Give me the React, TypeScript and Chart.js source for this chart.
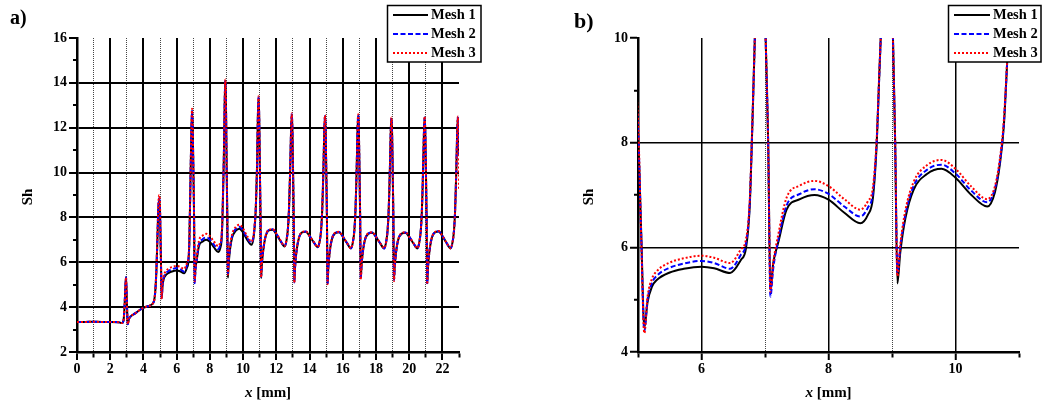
import React, { useEffect, useRef } from "react";
import { Chart, registerables } from "chart.js";
Chart.register(...registerables);

// ---------- data ----------
const xMm = [
  0, 0.5, 1, 1.5, 2, 2.5, 2.7, 2.8, 2.86, 2.92, 2.95, 2.99, 3.03, 3.06, 3.12, 3.25, 3.5, 3.75, 4.0, 4.3, 4.6, 4.7, 4.78, 4.84, 4.9, 4.95, 5.0, 5.05, 5.1, 5.15, 5.22, 5.3, 5.5, 5.72, 6.0, 6.2, 6.45,
  6.62, 6.7, 6.76, 6.8, 6.84, 6.89, 6.93, 6.97, 7.01, 7.05, 7.085, 7.13, 7.21, 7.34, 7.55, 7.78, 8.0, 8.25, 8.5,
  8.62, 8.7, 8.76, 8.8, 8.84, 8.89, 8.93, 8.97, 9.01, 9.05, 9.085, 9.13, 9.21, 9.34, 9.55, 9.78, 10.0, 10.25, 10.5,
  10.62, 10.7, 10.76, 10.8, 10.84, 10.89, 10.93, 10.97, 11.01, 11.05, 11.085, 11.13, 11.21, 11.34, 11.55, 11.78, 12.0, 12.25, 12.5,
  12.62, 12.7, 12.76, 12.8, 12.84, 12.89, 12.93, 12.97, 13.01, 13.05, 13.085, 13.13, 13.21, 13.34, 13.55, 13.78, 14.0, 14.25, 14.5,
  14.62, 14.7, 14.76, 14.8, 14.84, 14.89, 14.93, 14.97, 15.01, 15.05, 15.085, 15.13, 15.21, 15.34, 15.55, 15.78, 16.0, 16.25, 16.5,
  16.62, 16.7, 16.76, 16.8, 16.84, 16.89, 16.93, 16.97, 17.01, 17.05, 17.085, 17.13, 17.21, 17.34, 17.55, 17.78, 18.0, 18.25, 18.5,
  18.62, 18.7, 18.76, 18.8, 18.84, 18.89, 18.93, 18.97, 19.01, 19.05, 19.085, 19.13, 19.21, 19.34, 19.55, 19.78, 20.0, 20.25, 20.5,
  20.62, 20.7, 20.76, 20.8, 20.84, 20.89, 20.93, 20.97, 21.01, 21.05, 21.085, 21.13, 21.21, 21.34, 21.55, 21.78, 22.0, 22.25, 22.5,
  22.62, 22.7, 22.76, 22.8, 22.84, 22.89, 22.93, 22.97, 23.0,
];

const mesh1 = [
  3.34, 3.34, 3.35, 3.34, 3.34, 3.33, 3.29, 3.4, 4.0, 5.0, 5.33, 4.6, 3.6, 3.24, 3.45, 3.6, 3.72, 3.86, 3.97, 4.05, 4.2, 4.6, 5.6, 7.0, 8.4, 8.75, 8.2, 6.3, 4.46, 4.95, 5.25, 5.38, 5.52, 5.59, 5.63, 5.6, 5.51,
  5.76, 5.98, 6.8, 8.3, 10.0, 11.9, 12.75, 11.8, 10.0, 8.0, 5.2, 5.7, 6.1, 6.72, 6.92, 7.0, 6.91, 6.66, 6.46,
  6.62, 6.95, 8.0, 9.3, 10.6, 13.0, 14.1, 13.0, 10.3, 8.0, 5.31, 5.9, 6.55, 7.1, 7.4, 7.5, 7.33, 7.0, 6.78,
  7.05, 7.6, 8.3, 9.2, 10.3, 12.5, 13.35, 12.5, 10.2, 8.0, 5.3, 5.9, 6.5, 7.1, 7.42, 7.45, 7.25, 6.95, 6.7,
  7.0, 7.5, 8.3, 9.2, 10.3, 11.9, 12.58, 11.9, 10.0, 7.9, 5.13, 5.8, 6.45, 7.02, 7.33, 7.36, 7.17, 6.9, 6.67,
  6.97, 7.45, 8.25, 9.15, 10.25, 11.85, 12.5, 11.85, 10.0, 7.9, 5.06, 5.75, 6.42, 7.0, 7.3, 7.34, 7.15, 6.86, 6.62,
  6.93, 7.42, 8.2, 9.1, 10.2, 11.85, 12.54, 11.9, 10.0, 7.95, 5.3, 5.85, 6.45, 7.0, 7.28, 7.32, 7.13, 6.85, 6.62,
  6.93, 7.42, 8.2, 9.1, 10.2, 11.8, 12.4, 11.8, 10.0, 7.9, 5.24, 5.82, 6.44, 7.0, 7.28, 7.32, 7.13, 6.85, 6.62,
  6.93, 7.42, 8.2, 9.1, 10.2, 11.8, 12.44, 11.8, 10.0, 7.9, 5.06, 5.75, 6.42, 7.02, 7.33, 7.37, 7.17, 6.86, 6.62,
  6.93, 7.42, 8.2, 9.1, 10.2, 11.8, 12.44, 12.0, 10.8,
];

const mesh2 = [
  3.34, 3.34, 3.35, 3.34, 3.34, 3.33, 3.29, 3.4, 4.0, 5.0, 5.33, 4.6, 3.6, 3.24, 3.45, 3.6, 3.72, 3.86, 3.97, 4.05, 4.2, 4.6, 5.65, 7.05, 8.5, 8.85, 8.3, 6.25, 4.4, 5.0, 5.32, 5.46, 5.61, 5.69, 5.74, 5.7, 5.59,
  5.86, 6.07, 6.85, 8.3, 10.0, 11.9, 12.75, 11.8, 10.0, 8.0, 5.06, 5.6, 6.15, 6.8, 7.02, 7.11, 7.02, 6.78, 6.59,
  6.76, 7.05, 8.05, 9.3, 10.6, 13.0, 14.1, 13.0, 10.3, 8.0, 5.5, 6.0, 6.62, 7.17, 7.48, 7.58, 7.41, 7.08, 6.86,
  7.12, 7.65, 8.35, 9.2, 10.3, 12.5, 13.35, 12.5, 10.2, 8.0, 5.35, 5.95, 6.52, 7.12, 7.44, 7.47, 7.27, 6.97, 6.72,
  7.01, 7.5, 8.3, 9.2, 10.3, 11.9, 12.6, 11.9, 10.0, 7.9, 5.1, 5.78, 6.45, 7.03, 7.34, 7.37, 7.18, 6.9, 6.68,
  6.97, 7.46, 8.25, 9.15, 10.25, 11.85, 12.52, 11.85, 10.0, 7.9, 5.04, 5.74, 6.42, 7.01, 7.31, 7.35, 7.16, 6.87, 6.63,
  6.94, 7.42, 8.2, 9.1, 10.2, 11.85, 12.56, 11.9, 10.0, 7.95, 5.26, 5.83, 6.45, 7.01, 7.29, 7.33, 7.14, 6.86, 6.62,
  6.93, 7.42, 8.2, 9.1, 10.2, 11.8, 12.42, 11.8, 10.0, 7.9, 5.2, 5.8, 6.44, 7.01, 7.29, 7.33, 7.14, 6.86, 6.62,
  6.93, 7.42, 8.2, 9.1, 10.2, 11.8, 12.46, 11.8, 10.0, 7.9, 5.04, 5.74, 6.42, 7.03, 7.34, 7.38, 7.18, 6.87, 6.63,
  6.93, 7.42, 8.2, 9.1, 10.2, 11.8, 12.46, 12.0, 10.8,
];

const mesh3 = [
  3.34, 3.34, 3.35, 3.34, 3.34, 3.33, 3.29, 3.4, 4.0, 5.0, 5.33, 4.6, 3.6, 3.24, 3.45, 3.6, 3.72, 3.86, 3.97, 4.05, 4.2, 4.6, 5.7, 7.1, 8.6, 9.0, 8.48, 6.2, 4.36, 5.05, 5.4, 5.55, 5.71, 5.79, 5.84, 5.8, 5.7,
  5.96, 6.15, 6.9, 8.35, 10.0, 12.0, 12.85, 11.9, 10.0, 8.0, 5.15, 5.7, 6.25, 6.95, 7.18, 7.27, 7.17, 6.92, 6.72,
  6.88, 7.15, 8.1, 9.35, 10.6, 13.05, 14.15, 13.0, 10.3, 8.0, 5.45, 6.05, 6.7, 7.25, 7.57, 7.67, 7.5, 7.16, 6.92,
  7.16, 7.7, 8.4, 9.25, 10.3, 12.55, 13.4, 12.5, 10.2, 8.0, 5.32, 5.95, 6.53, 7.13, 7.45, 7.48, 7.28, 6.98, 6.73,
  7.02, 7.52, 8.32, 9.22, 10.3, 11.95, 12.65, 11.9, 10.0, 7.9, 5.08, 5.77, 6.46, 7.04, 7.35, 7.38, 7.18, 6.91, 6.68,
  6.98, 7.47, 8.27, 9.17, 10.27, 11.9, 12.56, 11.85, 10.0, 7.9, 5.02, 5.73, 6.43, 7.02, 7.32, 7.36, 7.16, 6.87, 6.63,
  6.94, 7.43, 8.22, 9.12, 10.22, 11.9, 12.6, 11.9, 10.0, 7.95, 5.22, 5.82, 6.46, 7.02, 7.3, 7.34, 7.14, 6.86, 6.63,
  6.94, 7.43, 8.22, 9.12, 10.22, 11.85, 12.46, 11.8, 10.0, 7.9, 5.16, 5.79, 6.45, 7.02, 7.3, 7.34, 7.14, 6.86, 6.63,
  6.94, 7.43, 8.22, 9.12, 10.22, 11.85, 12.5, 11.8, 10.0, 7.9, 5.02, 5.73, 6.43, 7.04, 7.35, 7.39, 7.18, 6.87, 6.63,
  6.94, 7.43, 8.22, 9.12, 10.22, 11.85, 12.5, 11.5, 9.2,
];

const seriesNames = ["Mesh 1", "Mesh 2", "Mesh 3"];
const xLabelsA = [0, 2, 4, 6, 8, 10, 12, 14, 16, 18, 20, 22];
const yLabelsA = [2, 4, 6, 8, 10, 12, 14, 16];
const xLabelsB = [6, 8, 10];
const yLabelsB = [4, 6, 8, 10];

const FONT = '"Liberation Serif", "Times New Roman", serif';

const decorPlugin = {
  id: "decor",
  afterDraw(chart: any, _args: any, o: any) {
    const { ctx, chartArea } = chart;
    ctx.save();
    ctx.fillStyle = "#000";
    // panel label
    ctx.font = `bold ${o.panelSize}px ${FONT}`;
    ctx.textAlign = "left";
    ctx.textBaseline = "alphabetic";
    ctx.fillText(o.panel, o.panelX, o.panelY);
    // y title
    ctx.save();
    ctx.translate(o.shX, o.shY);
    ctx.rotate(-Math.PI / 2);
    ctx.font = `bold 15px ${FONT}`;
    ctx.textAlign = "center";
    ctx.textBaseline = "middle";
    ctx.fillText("Sh", 0, 0);
    ctx.restore();
    // x title
    ctx.textBaseline = "middle";
    ctx.font = `italic bold 15px ${FONT}`;
    const w1 = ctx.measureText("x").width;
    ctx.font = `bold 15px ${FONT}`;
    const w2 = ctx.measureText(" [mm]").width;
    const cx = (chartArea.left + chartArea.right) / 2;
    const sx = cx - (w1 + w2) / 2;
    ctx.font = `italic bold 15px ${FONT}`;
    ctx.fillText("x", sx, 393);
    ctx.font = `bold 15px ${FONT}`;
    ctx.fillText(" [mm]", sx + w1, 393);
    // legend
    const L = o.legend;
    ctx.fillStyle = "#fff";
    ctx.fillRect(L.x, L.y, L.w, L.h);
    ctx.strokeStyle = "#000";
    ctx.lineWidth = 1.5;
    ctx.strokeRect(L.x, L.y, L.w, L.h);
    chart.data.datasets.forEach((ds: any, i: number) => {
      const y = L.rows[i];
      ctx.save();
      ctx.strokeStyle = ds.borderColor;
      ctx.lineWidth = 2;
      ctx.setLineDash(ds.borderDash || []);
      ctx.beginPath();
      ctx.moveTo(L.l1, y);
      ctx.lineTo(L.l2, y);
      ctx.stroke();
      ctx.restore();
      ctx.fillStyle = "#000";
      ctx.font = `bold 14.5px ${FONT}`;
      ctx.textAlign = "left";
      ctx.textBaseline = "middle";
      ctx.fillText(ds.label, L.tx, y + 0.5);
    });
    ctx.restore();
  },
};

function makeConfig(p: any) {
  const pts = (arr: number[]) => arr.map((y, i) => ({ x: xMm[i], y }));
  const isOdd = (v: number) => Math.abs(Math.round(v)) % 2 === 1;
  const T = "rgba(0,0,0,0)";
  return {
    type: "line",
    data: {
      datasets: [
        { label: seriesNames[0], data: pts(mesh1), borderColor: "#000000", borderWidth: 2, borderDash: [], order: 2 },
        { label: seriesNames[1], data: pts(mesh2), borderColor: "#0000ff", borderWidth: 2, borderDash: [5, 2.5], order: 1 },
        { label: seriesNames[2], data: pts(mesh3), borderColor: "#ff0000", borderWidth: 2, borderDash: [2, 2], order: 0 },
      ],
    },
    options: {
      responsive: false,
      animation: false,
      devicePixelRatio: 1,
      layout: { padding: { left: 0, top: 38, right: p.padRight, bottom: 0 } },
      elements: { point: { radius: 0 }, line: { cubicInterpolationMode: "monotone", fill: false } },
      plugins: { legend: { display: false }, tooltip: { enabled: false }, decor: p.decor },
      scales: {
        x: {
          type: "linear",
          min: p.xMin,
          max: p.xMax,
          afterFit: (s: any) => { s.height = 52; },
          ticks: {
            stepSize: 1, maxTicksLimit: 100, autoSkip: false, maxRotation: 0, padding: 1, color: "#000",
            font: { family: FONT, size: 14, weight: "bold" },
            callback: (v: number) => (p.xLabels.includes(v) ? String(v) : ""),
          },
          grid: {
            color: (c: any) => {
              const v = c.tick ? c.tick.value : undefined;
              if (v === undefined) return "#000";
              if (v === p.xMin || v === p.xMax) return T;
              return isOdd(v) ? "#444" : "#000";
            },
            lineWidth: (c: any) => (c.tick && isOdd(c.tick.value) ? 1 : p.gridW),
            tickColor: "#000",
            tickWidth: 2,
            tickLength: 8,
            tickBorderDash: (c: any) => (c.tick && isOdd(c.tick.value) ? [4, 100] : []),
          },
          border: {
            color: "#000",
            width: 2.5,
            dash: (c: any) => (c.tick && isOdd(c.tick.value) ? [1, 1] : []),
          },
        },
        y: {
          type: "linear",
          min: p.yMin,
          max: p.yMax,
          afterFit: (s: any) => { s.width = p.yAxisW; },
          ticks: {
            stepSize: 1, maxTicksLimit: 100, autoSkip: false, padding: 2, color: "#000",
            font: { family: FONT, size: 14, weight: "bold" },
            callback: (v: number) => (p.yLabels.includes(v) ? String(v) : ""),
          },
          grid: {
            color: (c: any) => {
              const v = c.tick ? c.tick.value : undefined;
              if (v === undefined) return "#000";
              if (v === p.yMin || v === p.yMax || isOdd(v)) return T;
              return "#000";
            },
            lineWidth: p.gridW,
            tickColor: "#000",
            tickWidth: 2,
            tickLength: 8,
            tickBorderDash: (c: any) => (c.tick && isOdd(c.tick.value) ? [0, 4, 100, 0] : []),
          },
          border: { color: "#000", width: 2.5 },
        },
      },
    },
    plugins: [decorPlugin],
  } as any;
}

const panelA = {
  xMin: 0, xMax: 23, yMin: 2, yMax: 16, xLabels: xLabelsA, yLabels: yLabelsA,
  padRight: 61, yAxisW: 77, gridW: 2,
  decor: {
    panel: "a)", panelX: 10, panelY: 24, panelSize: 20, shX: 28, shY: 197,
    legend: { x: 387.5, y: 5.5, w: 93.5, h: 56.5, l1: 393, l2: 428, tx: 431, rows: [15, 34, 53] },
  },
};

const panelB = {
  xMin: 5, xMax: 11, yMin: 4, yMax: 10, xLabels: xLabelsB, yLabels: yLabelsB,
  padRight: 23, yAxisW: 118, gridW: 1.5,
  decor: {
    panel: "b)", panelX: 54, panelY: 28, panelSize: 22, shX: 69, shY: 197,
    legend: { x: 428.5, y: 5.5, w: 92.5, h: 56.5, l1: 434, l2: 470, tx: 473, rows: [15, 34, 53] },
  },
};

export default function App() {
  const refA = useRef<HTMLCanvasElement>(null);
  const refB = useRef<HTMLCanvasElement>(null);
  useEffect(() => {
    const a = new Chart(refA.current as HTMLCanvasElement, makeConfig(panelA));
    const b = new Chart(refB.current as HTMLCanvasElement, makeConfig(panelB));
    return () => {
      a.destroy();
      b.destroy();
    };
  }, []);
  return (
    <div style={{ position: "absolute", left: 0, top: 0, width: 1042, height: 404, background: "#fff" }}>
      <canvas ref={refA} width={520} height={404} style={{ position: "absolute", left: 0, top: 0, width: 520, height: 404 }} />
      <canvas ref={refB} width={522} height={404} style={{ position: "absolute", left: 520, top: 0, width: 522, height: 404 }} />
    </div>
  );
}
